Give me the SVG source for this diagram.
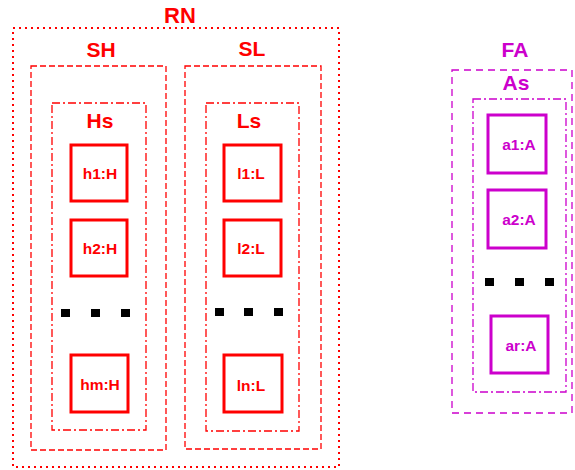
<svg xmlns="http://www.w3.org/2000/svg" width="575" height="470" viewBox="0 0 575 470">
<style>
text{font-family:"Liberation Sans",Arial,sans-serif;font-weight:bold;text-anchor:middle}
.r{fill:#ff0000}.m{fill:#cc00cc}
.big{font-size:21px}.sm{font-size:15.5px}
.dot{fill:none;stroke:#ff0000;stroke-width:2;stroke-dasharray:2,4}
.dashR{fill:none;stroke:#ff0000;stroke-width:1.3;stroke-dasharray:6,3}
.ddR{fill:none;stroke:#ff0000;stroke-width:1.3;stroke-dasharray:8,3,2,3}
.dashM{fill:none;stroke:#cc00cc;stroke-width:1.3;stroke-dasharray:7,5}
.ddM{fill:none;stroke:#cc00cc;stroke-width:1.3;stroke-dasharray:8,3,2,3}
.nR{fill:#fff;stroke:#ff0000;stroke-width:3}
.nM{fill:#fff;stroke:#cc00cc;stroke-width:3}
.sq{fill:#000}
</style>
<g id="RN">
<rect class="dot" x="13" y="28" width="326" height="439"/>
<text class="r big" x="180" y="23" style="font-size:22px">RN</text>
</g>
<g id="SH">
<rect class="dashR" x="31" y="66" width="135" height="384"/>
<text class="r big" x="101" y="57">SH</text>
</g>
<g id="Hs">
<rect class="ddR" x="52" y="103" width="94" height="327"/>
<text class="r big" x="100" y="128">Hs</text>
</g>
<g id="h1"><rect class="nR" x="71" y="145" width="56" height="56"/><text class="r sm" x="100" y="179">h1:H</text></g>
<g id="h2"><rect class="nR" x="71" y="220" width="56" height="56"/><text class="r sm" x="100" y="254">h2:H</text></g>
<g id="hdots"><rect class="sq" x="61" y="309" width="9" height="8"/><rect class="sq" x="91" y="309" width="9" height="8"/><rect class="sq" x="121" y="309" width="9" height="8"/></g>
<g id="hm"><rect class="nR" x="71" y="355" width="57" height="57"/><text class="r sm" x="100" y="390">hm:H</text></g>
<g id="SL">
<rect class="dashR" x="185" y="66" width="136" height="383"/>
<text class="r big" x="252" y="56">SL</text>
</g>
<g id="Ls">
<rect class="ddR" x="206" y="103" width="93" height="328"/>
<text class="r big" x="249" y="128">Ls</text>
</g>
<g id="l1"><rect class="nR" x="224" y="145" width="57" height="56"/><text class="r sm" x="251" y="179">l1:L</text></g>
<g id="l2"><rect class="nR" x="224" y="220" width="57" height="56"/><text class="r sm" x="251" y="254">l2:L</text></g>
<g id="ldots"><rect class="sq" x="215" y="308" width="9" height="8"/><rect class="sq" x="244" y="308" width="9" height="8"/><rect class="sq" x="274" y="308" width="9" height="8"/></g>
<g id="ln"><rect class="nR" x="224" y="355" width="58" height="57"/><text class="r sm" x="251" y="391">ln:L</text></g>
<g id="FA">
<rect class="dashM" x="452" y="70" width="120" height="343"/>
<text class="m big" x="515" y="57">FA</text>
</g>
<g id="As">
<rect class="ddM" x="473" y="99" width="93" height="293"/>
<text class="m big" x="516" y="90">As</text>
</g>
<g id="a1"><rect class="nM" x="488" y="115" width="58" height="58"/><text class="m sm" x="519" y="150">a1:A</text></g>
<g id="a2"><rect class="nM" x="488" y="190" width="58" height="58"/><text class="m sm" x="519" y="225">a2:A</text></g>
<g id="adots"><rect class="sq" x="485" y="278" width="9" height="8"/><rect class="sq" x="515" y="278" width="9" height="8"/><rect class="sq" x="545" y="278" width="9" height="8"/></g>
<g id="ar"><rect class="nM" x="491" y="316" width="57" height="57"/><text class="m sm" x="521" y="351">ar:A</text></g>
<g id="connectors"></g>
</svg>
